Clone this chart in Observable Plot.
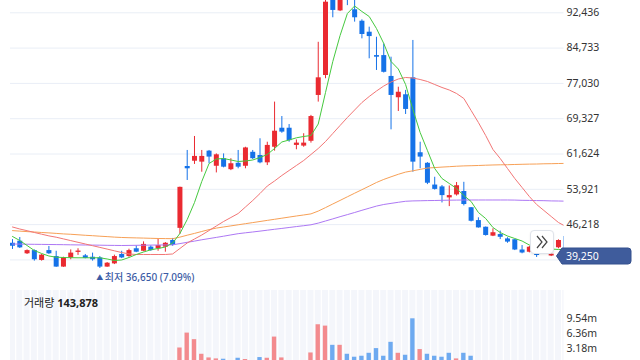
<!DOCTYPE html>
<html><head><meta charset="utf-8">
<script src="https://cdn.jsdelivr.net/npm/d3@7"></script>
<script src="https://cdn.jsdelivr.net/npm/@observablehq/plot@0.6"></script>
<style>
html,body{margin:0;padding:0;background:#fff;overflow:hidden;}
#wrap{position:relative;width:640px;height:360px;overflow:hidden;font-family:"Noto Sans","Noto Sans CJK KR",sans-serif;}
#price{position:absolute;left:0;top:0;}
#vol{position:absolute;left:0;top:290px;}
#volLabel{position:absolute;left:24px;top:295px;font-size:11px;color:#222;white-space:nowrap;line-height:16px;}
#volLabel b{font-weight:700;}
#tag{position:absolute;left:555px;width:80px;height:18px;}
#btn{position:absolute;left:530px;top:230px;width:24px;height:24px;background:#fff;border:1px solid #dfe3ea;border-radius:4px;box-sizing:border-box;box-shadow:0 1px 2px rgba(0,0,0,0.08);}
</style></head><body>
<div id="wrap">
  <div id="price"></div>
  <div id="vol"></div>
  <div id="volLabel"></div>
  <div id="btn"><svg width="22" height="22" viewBox="0 0 22 22"><polyline points="6,5 11,11 6,17" fill="none" stroke="#444" stroke-width="1.2"/><polyline points="11,5 16,11 11,17" fill="none" stroke="#444" stroke-width="1.2"/></svg></div>
  <svg id="tag" viewBox="0 0 80 18"></svg>
</div>
<script>
const opens  = [42150,42600,39850,40550,38400,40550,39250,36950,38950,40150,39400,39100,38950,36950,37650,39700,39250,40950,40400,41300,40950,41300,42750,45400,58900,60050,59850,62250,58950,60600,58200,59600,58950,62000,61300,59700,63100,67250,67250,63500,63350,64400,74400,78750,95800,92850,97500,93100,90600,88200,83100,83100,78550,73900,74550,78250,61900,59600,54850,54450,52050,52700,53450,49900,47100,45650,43700,44050,43100,42900,40700,40200,39700,40350,39350,41150,43650];
const highs  = [42950,43400,40700,40700,39700,41450,40400,39100,40700,40950,39700,40000,39250,37950,39550,40400,40850,41600,42450,41600,43050,42300,43200,54400,62400,65450,62400,62400,61650,61650,60600,62400,63100,62400,64950,64200,72950,69800,68050,64700,66050,70050,86000,95500,96500,96200,98000,95300,90900,89300,87100,85650,82750,76200,75500,86400,64200,59750,56550,54750,54650,55400,55450,49950,47700,45700,45300,44800,43350,42950,41650,41450,40000,40800,40100,42900,43850];
const lows   = [40800,41000,39700,38250,38250,39700,36900,36900,38550,39500,38750,38250,36650,36900,37500,38800,39100,40100,40300,40400,40400,40200,41500,44100,55850,59350,57650,59500,57500,58600,58000,58400,58400,60400,59500,59100,62250,66150,64200,62550,63100,64000,72950,78050,91350,92700,94000,90400,86750,82400,79850,79300,66900,70900,70250,57650,58400,54950,53750,50950,50150,52450,50300,46800,45450,43700,43600,42950,42150,40550,39850,40050,39050,40000,39250,40950,39100];
const closes = [41500,41150,40550,38550,39550,39850,36950,38950,40000,40450,38850,38550,36950,37800,39250,38950,40550,40200,41900,40550,41650,42150,41650,54350,58400,61100,61100,60950,61450,58750,59500,58750,62950,60600,59700,63500,66600,66400,64550,64000,64000,69800,78250,94750,92950,95550,96200,91350,87700,87250,82750,79450,74400,75100,71350,59850,60950,55250,53900,52550,52550,54700,50600,46950,45500,43850,44450,43450,42400,40700,40000,41300,39500,40150,39750,42750,39250];
const volumes = [350000,420000,280000,510000,330000,300000,580000,440000,360000,250000,220000,310000,490000,270000,380000,260000,340000,240000,410000,230000,450000,370000,520000,3310000,6490000,5090000,1970000,1190000,980000,910000,550000,1120000,850000,600000,1270000,1120000,5640000,1190000,620000,500000,580000,2250000,8270000,7980000,3880000,3880000,1970000,1340000,1550000,2180000,3180000,1550000,4520000,2180000,1760000,9540000,2970000,1970000,1550000,1340000,2180000,980000,2180000,1550000,620000,550000,480000,400000,450000,520000,380000,330000,290000,250000,310000,470000,143878];
const volumeUp = [0,0,1,0,1,0,0,1,1,1,0,0,0,1,1,0,1,0,1,0,1,1,0,1,1,1,1,1,1,0,1,0,1,0,0,1,1,1,0,0,1,1,1,1,0,1,0,0,0,0,0,0,0,1,0,0,1,0,0,0,0,1,0,0,0,0,1,0,0,0,0,1,0,1,1,1,0];
const ma5   = [43630,42750,41660,40570,39920,39370,39110,39040,39000,38980,38980,38980,38980,38720,38390,38500,39040,39700,40240,40720,41010,41330,42210,44280,47330,51040,55630,59550,60540,60640,60320,59990,60100,60320,60860,61520,62830,64250,64680,65160,65450,65660,68170,75050,81810,87480,92280,93920,92720,91630,89010,85740,81810,80170,76790,71340,66320,62390,58460,56280,55190,54100,52570,51260,48860,47550,45590,44500,43730,43190,42640,41770,41440,41120,40900,40790,40790];
const ma20  = [45700,45260,44890,44500,44130,43760,43470,43100,42730,42360,41990,41620,41250,40880,40500,40130,39810,39700,39700,39700,39700,39700,39810,41010,42210,43080,43950,44930,45920,46900,47770,48640,50060,51480,53010,54640,55740,56940,58030,59120,60210,61520,62830,64350,66100,67850,69590,71230,72860,74170,75370,76460,77340,77990,78320,78210,77880,77450,76790,76140,75590,74830,73740,71120,68500,65660,62610,60640,58460,56280,54320,52350,50610,49300,47990,46680,45810];
const ma60  = [44910,44800,44690,44610,44500,44410,44300,44190,44110,44000,43890,43800,43690,43600,43490,43410,43360,43320,43280,43230,43190,43170,43150,43490,43910,44300,44720,45130,45460,45700,45940,46180,46420,46660,46900,47140,47380,47620,47860,48100,48320,48560,49170,49930,50720,51500,52290,53070,53840,54620,55410,56080,56650,57200,57680,57960,58270,58570,58660,58770,58860,58960,59030,59070,59120,59180,59230,59270,59290,59340,59380,59420,59440,59490,59510,59550,59580];
const ma120 = [41990,41970,41940,41920,41900,41880,41860,41840,41810,41790,41770,41750,41730,41700,41680,41660,41680,41700,41730,41750,41770,41790,41810,42080,42360,42620,42910,43170,43430,43690,43970,44240,44430,44610,44800,45000,45200,45390,45590,45790,45980,46180,46550,47010,47470,47950,48400,48860,49340,49800,50260,50610,50850,51090,51310,51390,51420,51460,51480,51520,51550,51570,51590,51590,51590,51590,51590,51590,51590,51570,51520,51500,51460,51440,51390,51370,51330];
const priceTicks = [38515,46218,53921,61624,69327,77030,84733,92436];
const volumeTicks = [3180000,6360000,9540000];
const lastPrice = 39250;

const RED = "#ea2a31", BLUE = "#1572e8";
const FONT = '"Noto Sans","Noto Sans CJK KR",sans-serif';
const candles = opens.map((o,i)=>({i, open:o, high:highs[i], low:lows[i], close:closes[i]}));
const up = candles.filter(d=>d.close>=d.open), down = candles.filter(d=>d.close<d.open);
const xDomain = [-0.275, 75.76];
const lowPrice = d3.min(lows), lowIndex = lows.indexOf(lowPrice);
const lowPct = ((lastPrice - lowPrice) / lowPrice * 100).toFixed(2);
// labels hidden behind the last-price tag are not drawn
const labeledTicks = priceTicks.filter(t => Math.abs(t - lastPrice) > 2200);
const maLine = (arr, color) => Plot.line(arr, {x:(d,i)=>i, y:d=>d, stroke:color, strokeWidth:1, clip:true});

const price = Plot.plot({
  width:640, height:290, marginLeft:10, marginRight:76.5, marginTop:0, marginBottom:0,
  x:{domain:xDomain, axis:null},
  y:{domain:[31842,95120], axis:null, label:null},
  style:{fontFamily:FONT, background:"transparent", overflow:"visible"},
  marks:[
    Plot.gridY(priceTicks, {stroke:"#e9eef6", strokeOpacity:1}),
    Plot.axisY(labeledTicks, {anchor:"right", tickSize:0, tickPadding:2.5, tickFormat:d3.format(","), fontSize:10.5, fill:"#333", label:null}),
    Plot.ruleX(up, {x:"i", y1:"low", y2:"high", stroke:RED, strokeWidth:1, clip:true}),
    Plot.ruleX(down, {x:"i", y1:"low", y2:"high", stroke:BLUE, strokeWidth:1, clip:true}),
    Plot.ruleX(up, {x:"i", y1:"open", y2:"close", stroke:RED, strokeWidth:5, clip:true}),
    Plot.ruleX(down, {x:"i", y1:"open", y2:"close", stroke:BLUE, strokeWidth:5, clip:true}),
    maLine(ma120, "#ad78f4"),
    maLine(ma60, "#f7a056"),
    maLine(ma20, "#f27676"),
    maLine(ma5, "#46c93f"),
    Plot.text([lowIndex], {x:d=>d, y:lowPrice, text:()=>"▲", dy:9, fontSize:7, fill:"#3b5ba5"}),
    Plot.text([lowIndex], {x:d=>d, y:lowPrice, text:()=>`최저 ${d3.format(",")(lowPrice)} (${lowPct}%)`, dy:9, dx:5, textAnchor:"start", fontSize:10, fill:"#3b5ba5", fontWeight:500})
  ]
});
document.getElementById("price").appendChild(price);

const volData = volumes.map((v,i)=>({i, v, up:volumeUp[i]===1}));
const vol = Plot.plot({
  width:640, height:74, marginLeft:10, marginRight:76.5, marginTop:0, marginBottom:1,
  x:{domain:xDomain, axis:null},
  y:{domain:[0,15580000], axis:null, label:null},
  style:{fontFamily:FONT, background:"transparent", overflow:"visible"},
  marks:[
    Plot.rect(volData, {x1:d=>d.i-0.41, x2:d=>d.i+0.41, fill:"#f4f6fb", clip:true}),
    Plot.rect(volData.filter(d=>d.up), {x1:d=>d.i-0.3, x2:d=>d.i+0.3, y1:0, y2:"v", fill:"#f38b8e", clip:true}),
    Plot.rect(volData.filter(d=>!d.up), {x1:d=>d.i-0.3, x2:d=>d.i+0.3, y1:0, y2:"v", fill:"#6eaaf0", clip:true}),
    Plot.axisY(volumeTicks, {anchor:"right", tickSize:0, tickPadding:2.5, tickFormat:d=>(d/1e6).toFixed(2)+"m", fontSize:10.5, fill:"#333", label:null})
  ]
});
document.getElementById("vol").appendChild(vol);

document.getElementById("volLabel").innerHTML = `거래량 <b>${d3.format(",")(volumes[volumes.length-1])}</b>`;

const yc = price.scale("y").apply(lastPrice);
const tag = document.getElementById("tag");
tag.style.top = (yc - 9) + "px";
tag.innerHTML = `<path d="M1.5,9 L7,1 H73 Q76,1 76,4 V14 Q76,17 73,17 H7 Z" fill="#3f5c9c" stroke="#34508e" stroke-width="1"/>
<text x="11" y="13" fill="#fff" font-size="10.5" font-family='${FONT}'>${d3.format(",")(lastPrice)}</text>`;
</script>
</body></html>
